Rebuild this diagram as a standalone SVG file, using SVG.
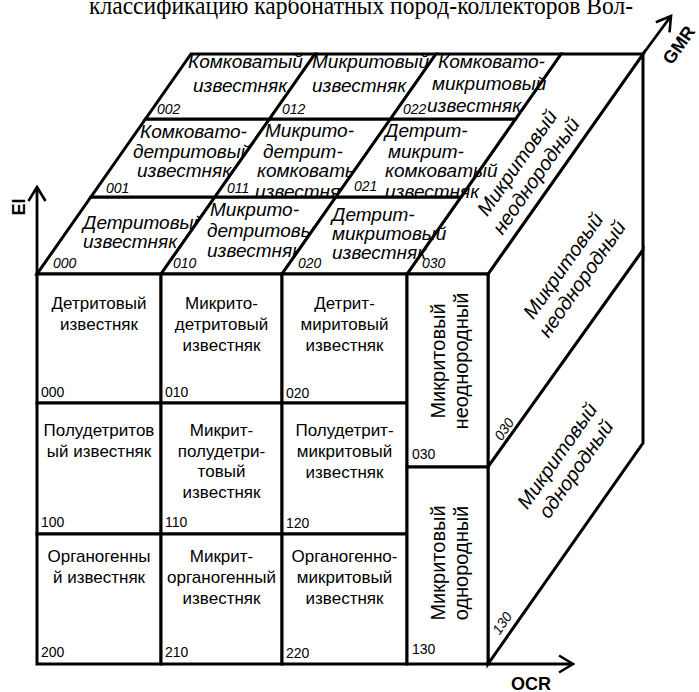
<svg xmlns="http://www.w3.org/2000/svg" width="699" height="692" viewBox="0 0 699 692">
<defs>
<marker id="arr" markerUnits="userSpaceOnUse" viewBox="-2 -12 20 24" refX="15" refY="0" markerWidth="20" markerHeight="24" orient="auto">
<path d="M1,-8.5 L15,0 L1,8.5" fill="none" stroke="#000" stroke-width="2.6"/>
</marker>
</defs>
<style>
.c{fill:#fff;stroke:#000;stroke-width:3;stroke-linejoin:miter}
.ax{fill:none;stroke:#000;stroke-width:2.8}
text{font-family:"Liberation Sans",Arial,sans-serif;fill:#000}
.f{font-size:17px;text-anchor:middle}
.n{font-size:14px}
.i{font-size:19px;font-style:italic}
.ni{font-size:14px;font-style:italic}
.v{font-size:20px;text-anchor:middle}
.vi{font-size:20px;font-style:italic;text-anchor:middle}
.b{font-size:18px;font-weight:bold;text-anchor:middle}
.hd{font-family:"Liberation Serif","Times New Roman",serif;font-size:25px}
</style>
<rect width="699" height="692" fill="#fff"/>
<text class="hd" x="89" y="14" textLength="544" lengthAdjust="spacingAndGlyphs">классификацию карбонатных пород-коллекторов Вол-</text>

<g id="right-upper"><polygon class="c" points="488,274 643,54 643,250 488,467"/>
<text class="vi" transform="translate(572,272) rotate(-55)"><tspan x="0" y="-4">Микритовый</tspan><tspan x="0" y="19">неоднородный</tspan></text>
<text class="ni" transform="translate(504,429) rotate(-55)" text-anchor="middle" y="5">030</text></g>
<g id="right-lower"><polygon class="c" points="488,467 643,250 643,443 488,664"/>
<text class="vi" transform="translate(566,462) rotate(-55)"><tspan x="0" y="-4">Микритовый</tspan><tspan x="0" y="19">однородный</tspan></text>
<text class="ni" transform="translate(502,623) rotate(-55)" text-anchor="middle" y="5">130</text></g>

<g id="top-030"><polygon class="c" points="407,274 488,274 643,54 561,54"/>
<text class="vi" transform="translate(526,169) rotate(-55)"><tspan x="0" y="-4">Микритовый</tspan><tspan x="0" y="19">неоднородный</tspan></text>
<text class="ni" x="422" y="268">030</text></g>

<g id="top-000"><polygon class="c" points="37,274 161,274 214.9,197 90.9,197"/>
<text class="i"><tspan x="83" y="229">Детритовый</tspan><tspan x="83" y="248">известняк</tspan></text>
<text class="ni" x="53" y="268">000</text></g>
<g id="top-010"><polygon class="c" points="161,274 282,274 335.9,197 214.9,197"/>
<text class="i"><tspan x="210" y="216">Микрито-</tspan><tspan x="207" y="237">детритовый</tspan><tspan x="207" y="257">известняк</tspan></text>
<text class="ni" x="173" y="268">010</text></g>
<g id="top-020"><polygon class="c" points="282,274 407,274 460.9,197 335.9,197"/>
<text class="i"><tspan x="332" y="221">Детрит-</tspan><tspan x="332" y="240">микритовый</tspan><tspan x="332" y="259">известняк</tspan></text>
<text class="ni" x="298" y="268">020</text></g>

<g id="top-001"><polygon class="c" points="90.9,197 214.9,197 269.5,119 145.5,119"/>
<text class="i"><tspan x="140" y="138">Комковато-</tspan><tspan x="133" y="158">детритовый</tspan><tspan x="137" y="177">известняк</tspan></text>
<text class="ni" x="106" y="193">001</text></g>
<g id="top-011"><polygon class="c" points="214.9,197 335.9,197 390.5,119 269.5,119"/>
<text class="i"><tspan x="265" y="137">Микрито-</tspan><tspan x="263" y="158">детрит-</tspan><tspan x="257" y="177">комковатый</tspan><tspan x="255" y="198">известняк</tspan></text>
<text class="ni" x="227" y="193">011</text></g>
<g id="top-021"><polygon class="c" points="335.9,197 460.9,197 515.5,119 390.5,119"/>
<text class="i"><tspan x="385" y="137">Детрит-</tspan><tspan x="388" y="158">микрит-</tspan><tspan x="385" y="177">комковатый</tspan><tspan x="385" y="198">известняк</tspan></text>
<text class="ni" x="354" y="191">021</text></g>

<g id="top-002"><polygon class="c" points="145.5,119 269.5,119 315,54 191,54"/>
<text class="i"><tspan x="188" y="68">Комковатый</tspan><tspan x="193" y="92">известняк</tspan></text>
<text class="ni" x="157" y="114">002</text></g>
<g id="top-012"><polygon class="c" points="269.5,119 390.5,119 436,54 315,54"/>
<text class="i"><tspan x="312" y="68">Микритовый</tspan><tspan x="312" y="92">известняк</tspan></text>
<text class="ni" x="282" y="114">012</text></g>
<g id="top-022"><polygon class="c" points="390.5,119 515.5,119 561,54 436,54"/>
<text class="i"><tspan x="438" y="68">Комковато-</tspan><tspan x="432" y="90">микритовый</tspan><tspan x="427" y="112">известняк</tspan></text>
<text class="ni" x="403" y="114">022</text></g>

<g id="front-000"><rect class="c" x="37" y="274" width="124" height="129"/>
<text class="f"><tspan x="99" y="309">Детритовый</tspan><tspan x="99" y="330">известняк</tspan></text>
<text class="n" x="41" y="397">000</text></g>
<g id="front-010"><rect class="c" x="161" y="274" width="121" height="129"/>
<text class="f"><tspan x="221.5" y="309">Микрито-</tspan><tspan x="221.5" y="330">детритовый</tspan><tspan x="221.5" y="351">известняк</tspan></text>
<text class="n" x="165" y="397">010</text></g>
<g id="front-020"><rect class="c" x="282" y="274" width="125" height="129"/>
<text class="f"><tspan x="344.5" y="309">Детрит-</tspan><tspan x="344.5" y="330">миритовый</tspan><tspan x="344.5" y="351">известняк</tspan></text>
<text class="n" x="286" y="398">020</text></g>

<g id="front-100"><rect class="c" x="37" y="403" width="124" height="131"/>
<text class="f"><tspan x="99" y="436">Полудетритов</tspan><tspan x="99" y="457">ый  известняк</tspan></text>
<text class="n" x="41" y="527">100</text></g>
<g id="front-110"><rect class="c" x="161" y="403" width="121" height="131"/>
<text class="f"><tspan x="221.5" y="436">Микрит-</tspan><tspan x="221.5" y="457">полудетри-</tspan><tspan x="221.5" y="477">товый</tspan><tspan x="221.5" y="498">известняк</tspan></text>
<text class="n" x="165" y="527">110</text></g>
<g id="front-120"><rect class="c" x="282" y="403" width="125" height="131"/>
<text class="f"><tspan x="344.5" y="436">Полудетрит-</tspan><tspan x="344.5" y="457">микритовый</tspan><tspan x="344.5" y="478">известняк</tspan></text>
<text class="n" x="286" y="528">120</text></g>

<g id="front-200"><rect class="c" x="37" y="534" width="124" height="130"/>
<text class="f"><tspan x="99" y="562">Органогенны</tspan><tspan x="99" y="583">й известняк</tspan></text>
<text class="n" x="41" y="657">200</text></g>
<g id="front-210"><rect class="c" x="161" y="534" width="121" height="130"/>
<text class="f"><tspan x="221.5" y="562">Микрит-</tspan><tspan x="221.5" y="583">органогенный</tspan><tspan x="221.5" y="604">известняк</tspan></text>
<text class="n" x="165" y="657">210</text></g>
<g id="front-220"><rect class="c" x="282" y="534" width="125" height="130"/>
<text class="f"><tspan x="344.5" y="562">Органогенно-</tspan><tspan x="344.5" y="583">микритовый</tspan><tspan x="344.5" y="604">известняк</tspan></text>
<text class="n" x="286" y="658">220</text></g>

<g id="front-030"><rect class="c" x="407" y="274" width="81" height="193"/>
<text class="v" transform="translate(445,361) rotate(-90)"><tspan x="0" y="0">Микритовый</tspan><tspan x="0" y="23">неоднородный</tspan></text>
<text class="n" x="412" y="459">030</text></g>
<g id="front-130"><rect class="c" x="407" y="467" width="81" height="197"/>
<text class="v" transform="translate(445,563) rotate(-90)"><tspan x="0" y="0">Микритовый</tspan><tspan x="0" y="23">однородный</tspan></text>
<text class="n" x="412" y="654">130</text></g>

<g id="axes">
<line class="ax" x1="37" y1="276" x2="37" y2="187" marker-end="url(#arr)"/>
<line class="ax" x1="486" y1="664" x2="573" y2="664" marker-end="url(#arr)"/>
<line class="ax" x1="643" y1="54" x2="671" y2="16" marker-end="url(#arr)"/>
<text class="b" transform="translate(25,207) rotate(-90)" x="0" y="0">EI</text>
<text class="b" x="531" y="690">OCR</text>
<text class="b" transform="translate(679,45) rotate(-55)" x="0" y="6">GMR</text>
</g>
</svg>
